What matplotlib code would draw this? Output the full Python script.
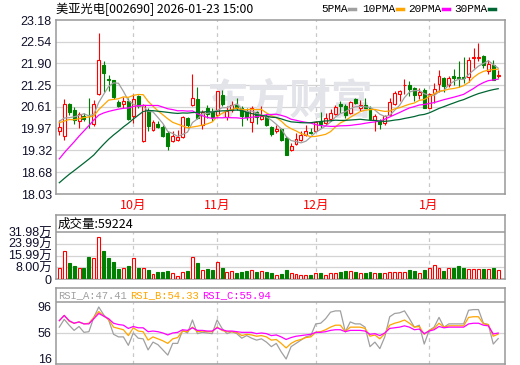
import matplotlib
matplotlib.use('Agg')
import matplotlib.pyplot as plt
import matplotlib.transforms as mtransforms
from matplotlib.lines import Line2D
import numpy as np
import pandas as pd

plt.rcParams['font.family'] = ['Liberation Sans', 'Noto Sans CJK SC', 'DejaVu Sans']

title = '美亚光电[002690] 2026-01-23 15:00'

# closes before the visible window, only used to warm up the MA lines
pre_close = [16.90, 16.80, 16.95, 17.00, 16.85, 16.90, 17.05, 17.10, 16.95, 17.00,
             17.10, 17.20, 17.05, 17.00, 17.15, 17.20, 17.40,
             19.10, 20.30, 20.50, 20.20, 20.00, 20.30, 20.10, 19.90, 20.20, 20.40, 20.10, 20.20]

# daily candles
opens = [19.90, 19.74, 20.69, 20.53, 20.20, 20.35, 20.38, 20.10, 21.00, 21.84,
         21.42, 21.39, 20.75, 20.69, 20.77, 20.33, 20.92, 19.61, 20.50, 19.91,
         20.11, 20.00, 19.84, 19.59, 19.62, 19.72, 20.28, 20.65, 20.85, 20.06,
         20.57, 20.45, 20.38, 20.95, 20.30, 20.51, 20.65, 20.59, 20.48, 20.15,
         20.46, 20.26, 20.33, 20.00, 19.88, 19.95, 19.69, 19.32, 19.51, 19.62,
         19.77, 19.86, 19.90, 20.20, 20.13, 20.26, 20.41, 20.69, 20.62, 20.43,
         20.84, 20.59, 20.65, 20.57, 20.21, 20.20, 20.13, 20.38, 20.69, 20.99,
         21.25, 21.25, 21.17, 20.95, 21.10, 20.59, 21.02, 21.29, 21.46, 21.27,
         21.51, 21.48, 21.48, 21.48, 22.05, 22.05, 22.11, 21.68, 21.86, 21.51]
highs = [20.23, 20.84, 20.72, 20.60, 20.46, 20.43, 20.87, 20.82, 22.80, 21.98,
         21.54, 21.41, 20.82, 20.89, 20.87, 20.99, 20.97, 20.69, 20.57, 20.23,
         20.18, 20.08, 19.88, 19.88, 19.93, 20.33, 20.30, 21.58, 21.19, 20.51,
         20.67, 20.59, 21.09, 21.12, 20.62, 20.77, 20.87, 20.62, 20.57, 20.62,
         20.50, 20.62, 20.40, 20.03, 20.06, 19.98, 19.74, 19.54, 19.84, 19.90,
         20.08, 19.98, 20.18, 20.46, 20.43, 20.55, 20.65, 20.77, 20.69, 20.79,
         20.87, 20.82, 20.87, 20.62, 20.41, 20.26, 20.38, 20.87, 21.09, 21.12,
         21.43, 21.38, 21.20, 21.17, 21.17, 21.02, 21.31, 21.69, 21.48, 21.51,
         21.73, 21.96, 22.09, 22.08, 22.35, 22.50, 22.13, 22.01, 22.01, 21.71]
lows = [19.79, 19.64, 20.38, 20.10, 19.98, 20.18, 19.98, 20.03, 20.95, 21.05,
        21.07, 20.84, 20.61, 20.57, 20.23, 20.13, 20.57, 19.57, 19.88, 19.88,
        19.98, 19.71, 19.34, 19.57, 19.59, 19.69, 19.98, 20.62, 20.25, 19.96,
        20.28, 20.18, 20.32, 20.62, 20.21, 20.46, 20.53, 20.03, 20.23, 19.86,
        20.10, 20.23, 20.03, 19.74, 19.83, 19.61, 19.19, 19.29, 19.47, 19.59,
        19.74, 19.81, 19.88, 19.98, 20.06, 20.20, 20.36, 20.43, 20.28, 20.40,
        20.69, 20.48, 20.57, 20.23, 19.90, 19.96, 20.08, 20.33, 20.65, 20.77,
        20.99, 20.92, 20.79, 20.85, 20.57, 20.57, 20.72, 21.05, 21.05, 21.21,
        21.27, 21.21, 21.31, 21.34, 21.76, 21.98, 21.76, 21.58, 21.39, 21.46]
closes = [20.00, 20.69, 20.45, 20.23, 20.41, 20.25, 20.36, 20.70, 21.99, 21.61,
          21.40, 20.90, 20.64, 20.79, 20.26, 20.84, 20.62, 20.65, 20.03, 20.16,
          20.01, 19.74, 19.46, 19.74, 19.72, 20.31, 20.08, 20.87, 20.28, 20.45,
          20.40, 20.30, 21.07, 20.69, 20.48, 20.67, 20.57, 20.33, 20.30, 20.57,
          20.31, 20.33, 20.06, 19.81, 19.96, 19.64, 19.19, 19.46, 19.66, 19.77,
          19.88, 19.83, 20.15, 20.10, 20.28, 20.43, 20.60, 20.64, 20.36, 20.74,
          20.72, 20.65, 20.59, 20.26, 20.35, 20.10, 20.33, 20.74, 21.02, 21.07,
          21.27, 21.14, 20.95, 21.05, 20.59, 20.99, 21.14, 21.51, 21.24, 21.46,
          21.46, 21.46, 21.47, 21.99, 22.08, 22.08, 21.84, 21.89, 21.41, 21.56]
# volume in 万 shares
volume = [7.3, 19.0, 10.9, 8.8, 7.3, 7.3, 15.0, 14.1, 28.4, 19.0,
          14.5, 11.8, 7.0, 7.3, 8.8, 14.1, 7.3, 7.3, 6.1, 3.4,
          4.8, 5.0, 5.4, 3.9, 2.0, 4.8, 5.4, 15.2, 11.1, 6.1,
          6.6, 6.1, 11.3, 7.3, 4.8, 5.4, 4.3, 4.8, 5.4, 6.1,
          4.8, 5.4, 4.8, 4.3, 3.0, 3.4, 6.1, 3.9, 3.4, 3.0,
          2.4, 3.0, 4.3, 4.3, 3.0, 4.3, 4.3, 5.0, 5.4, 5.4,
          5.0, 4.3, 4.3, 5.0, 4.3, 4.3, 4.3, 4.8, 4.8, 4.8,
          4.8, 6.4, 5.4, 3.9, 6.1, 7.3, 9.5, 7.3, 5.4, 7.3,
          7.3, 9.0, 7.3, 7.0, 6.5, 6.5, 6.5, 6.5, 7.3, 5.92]

# RSI lines
rsi_a = [65, 77, 68, 60, 66, 57, 58, 80, 96, 84,
         76, 54, 50, 50, 37, 56, 48, 47, 30, 42,
         38, 30, 22, 40, 40, 60, 56, 76, 55, 57,
         56, 55, 76, 63, 55, 58, 55, 48, 52, 48,
         45, 47, 42, 35, 40, 27, 16, 35, 40, 45,
         50, 52, 70, 71, 78, 88, 90, 90, 58, 73,
         70, 70, 65, 35, 42, 32, 50, 81, 86, 87,
         90, 78, 65, 68, 39, 60, 65, 80, 65, 70,
         70, 70, 70, 91, 92, 92, 71, 69, 39, 47.41]
rsi_b = [75, 83, 74, 71, 73, 70, 71, 80, 89, 82,
         77, 65, 63, 61, 52, 64, 59, 58, 45, 50,
         47, 44, 40, 47, 49, 59, 58, 65, 58, 59,
         58, 58, 65, 60, 58, 58, 57, 52, 54, 53,
         51, 52, 50, 45, 46, 40, 33, 40, 44, 46,
         49, 50, 57, 58, 61, 65, 68, 68, 58, 65,
         65, 65, 63, 51, 53, 47, 55, 68, 71, 73,
         76, 71, 65, 66, 54, 60, 63, 71, 65, 67,
         67, 67, 67, 80, 81, 81, 70, 69, 51, 54.33]
rsi_c = [75, 83, 75, 71, 73, 70, 70, 78, 86, 82,
         78, 71, 69, 68, 63, 66, 64, 64, 58, 59,
         58, 56, 53, 56, 57, 61, 60, 64, 60, 60,
         59, 59, 64, 61, 59, 59, 58, 57, 57, 57,
         55, 56, 55, 52, 53, 50, 46, 49, 51, 52,
         53, 54, 57, 57, 58, 60, 61, 61, 58, 60,
         60, 60, 59, 54, 55, 52, 56, 63, 64, 65,
         67, 65, 61, 62, 55, 59, 61, 66, 64, 65,
         65, 65, 65, 70, 71, 71, 68, 67, 54.5, 55.94]

month_labels = ['10月', '11月', '12月', '1月']
month_first = [15, 32, 52, 75]   # index of first trading day of each month

price_ticks = [18.03, 18.68, 19.32, 19.97, 20.61, 21.25, 21.90, 22.54, 23.18]
vol_ticks = [0, 8.00, 15.99, 23.99, 31.98]
rsi_ticks = [16, 56, 96]

ma_periods = [5, 10, 20, 30]
ma_names = ['5PMA', '10PMA', '20PMA', '30PMA']
ma_colors = ['#a0a0a0', '#ffa500', '#ff00ff', '#006633']
rsi_names = ['RSI_A', 'RSI_B', 'RSI_C']
rsi_colors = ['#a0a0a0', '#ffa500', '#ff00ff']
vol_title = '成交量:59224'

UP = '#ff0000'
DOWN = '#008000'
FRAME = '#999999'
GRID = '#d4d4d4'

df = pd.DataFrame({'open': opens, 'high': highs, 'low': lows, 'close': closes, 'vol': volume})
x = np.arange(len(df))
up = (df['close'] >= df['open']).to_numpy()
edge = np.where(up, UP, DOWN)
face = np.where(up, 'white', DOWN)
all_close = pd.Series(pre_close + closes)
n_pre = len(pre_close)

W, H = 520, 365
fig = plt.figure(figsize=(W / 100, H / 100), dpi=100)


def rect(l, t, r, b):
    return [l / W, 1 - b / H, (r - l) / W, (b - t) / H]


ax_p = fig.add_axes(rect(56, 20, 505, 194))
ax_v = fig.add_axes(rect(56, 215, 505, 279))
ax_r = fig.add_axes(rect(56, 288, 505, 364))

xlim = (-0.67, len(df) - 1 + 1.38)
for ax in (ax_p, ax_v, ax_r):
    ax.set_xlim(*xlim)
    ax.set_xticks([])
    for s in ax.spines.values():
        s.set_color(FRAME)
        s.set_linewidth(1.1)
    ax.tick_params(axis='y', length=0, pad=3, labelsize=9, labelcolor='#10102a')

# ---- price panel
ax_p.set_ylim(price_ticks[0], price_ticks[-1])
ax_p.set_yticks(price_ticks)
ax_p.set_yticklabels([f'{t:.2f}' for t in price_ticks])
for t in price_ticks[1:-1]:
    ax_p.axhline(t, color=GRID, lw=0.9, zorder=0)
for m in month_first:
    ax_p.axvline(m, color='#c8c8c8', lw=0.9, ls=(0, (3, 3)), zorder=0)

ax_p.text(0.52, 0.53, '东方财富', transform=ax_p.transAxes, ha='center', va='center',
          fontsize=30, fontweight='bold', color='#e3e3ea', family='Noto Sans CJK SC', zorder=0.5)

ax_p.vlines(x, df['low'], df['high'], colors=edge, lw=0.8, zorder=2)
body_h = np.maximum((df['close'] - df['open']).abs(), 0.012)
ax_p.bar(x, body_h, bottom=np.minimum(df['open'], df['close']), width=0.6,
         color=face, edgecolor=edge, linewidth=0.8, zorder=3)

for n, col in zip(ma_periods, ma_colors):
    ma = all_close.rolling(n).mean().iloc[n_pre:].to_numpy()
    ax_p.plot(x, ma, color=col, lw=0.9, zorder=4)

trans = mtransforms.blended_transform_factory(ax_p.transData, ax_p.transAxes)
for m, lab in zip(month_first, month_labels):
    ax_p.text(m, -0.063, lab, transform=trans, ha='center', va='center',
              fontsize=9, color='#ff0000', family='Noto Sans CJK SC', clip_on=False)

# ---- volume panel
v_top = vol_ticks[-1] * 64 / 47
ax_v.set_ylim(0, v_top)
ax_v.set_yticks(vol_ticks)
ax_v.set_yticklabels(['0'] + [f'{t:.2f}万' for t in vol_ticks[1:]])
for t in vol_ticks[1:-1]:
    ax_v.axhline(t, color=GRID, lw=0.9, zorder=0)
ax_v.axhline(vol_ticks[-1], color=FRAME, lw=1.1, zorder=1)
for m in month_first:
    ax_v.axvline(m, ymax=vol_ticks[-1] / v_top, color='#c8c8c8', lw=0.9, ls=(0, (3, 3)), zorder=0)
ax_v.bar(x, df['vol'], width=0.6, color=face, edgecolor=edge, linewidth=0.8, zorder=3)
fig.text(58 / W, 1 - 224 / H, vol_title, ha='left', va='center', fontsize=9,
         color='black', family='Noto Sans CJK SC')

# ---- RSI panel
r_lo, r_sep, r_hi = 8.3, 103.7, 125.2
ax_r.set_ylim(r_lo, r_hi)
ax_r.set_yticks(rsi_ticks)
ax_r.set_yticklabels([str(t) for t in rsi_ticks])
ax_r.axhline(56, color=GRID, lw=0.9, zorder=0)
ax_r.axhline(r_sep, color=FRAME, lw=1.1, zorder=1)
for m in month_first:
    ax_r.axvline(m, ymax=(r_sep - r_lo) / (r_hi - r_lo), color='#c8c8c8', lw=0.9,
                 ls=(0, (3, 3)), zorder=0)
for vals, col in zip([rsi_a, rsi_b, rsi_c], rsi_colors):
    ax_r.plot(x, vals, color=col, lw=0.9, zorder=3)
for name, vals, col, px in zip(rsi_names, [rsi_a, rsi_b, rsi_c], rsi_colors, [58, 130, 202]):
    fig.text(px / W, 1 - 295 / H, f'{name}:{vals[-1]:.2f}', ha='left', va='center',
             fontsize=7.6, color=col, family='Liberation Mono')

# ---- title and legend
fig.text(56 / W, 1 - 9 / H, title, ha='left', va='center', fontsize=8.8,
         color='black', family='Noto Sans CJK SC')
for name, col, px in zip(ma_names, ma_colors, [321, 362, 408, 454]):
    fig.text(px / W, 1 - 9 / H, name, ha='left', va='center', fontsize=8,
             color='black', family='Liberation Mono')
    lx = px + 6.5 * len(name) + 2
    fig.add_artist(Line2D([lx / W, (lx + 6) / W], [1 - 9 / H, 1 - 9 / H],
                          color=col, lw=2.5, transform=fig.transFigure))

fig.savefig('out.png', dpi=100)
